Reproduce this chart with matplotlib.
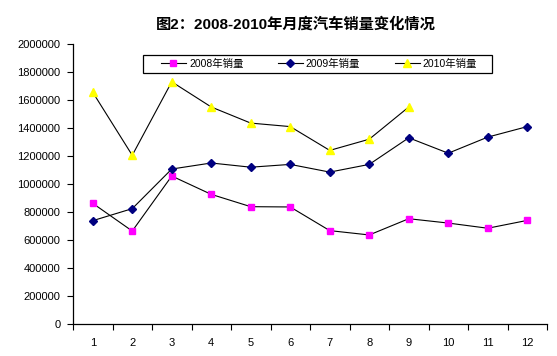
import matplotlib
matplotlib.use("Agg")
import matplotlib.pyplot as plt
from matplotlib.patches import Rectangle
from matplotlib.ticker import FixedLocator

plt.rcParams['font.family'] = ['Liberation Sans', 'Noto Sans CJK SC', 'DejaVu Sans']

# monthly car sales
months = list(range(1, 13))
sales_2008 = [862000, 664000, 1057000, 926000, 838000, 836000, 667000, 636000, 752000, 721000, 684000, 740000]
sales_2009 = [738000, 824000, 1107000, 1150000, 1120000, 1140000, 1085000, 1140000, 1330000, 1220000, 1335000, 1410000]
months_2010 = list(range(1, 10))
sales_2010 = [1655000, 1205000, 1730000, 1550000, 1435000, 1410000, 1240000, 1320000, 1550000]
series_names = ["2008年销量", "2009年销量", "2010年销量"]
y_ticks = list(range(0, 2000001, 200000))
title = "图2：2008-2010年月度汽车销量变化情况"

fig = plt.figure(figsize=(5.57, 3.56), dpi=100)
ax = fig.add_axes([73 / 557, 1 - 324 / 356, 474 / 557, 280 / 356])

ax.plot(months, sales_2008, color="black", lw=0.8, marker="s", ms=5,
        mfc="#FF00FF", mec="#FF00FF", label=series_names[0])
ax.plot(months, sales_2009, color="black", lw=0.8, marker="D", ms=3.8,
        mfc="#000080", mec="#000080", label=series_names[1])
ax.plot(months_2010, sales_2010, color="black", lw=0.8, marker="^", ms=6,
        mfc="#FFFF00", mec="#FFFF00", label=series_names[2])

ax.set_xlim(0.5, 12.5)
ax.set_ylim(0, 2000000)
ax.set_yticks(y_ticks)
ax.set_yticklabels([str(v) for v in y_ticks], fontsize=8)
ax.set_xticks(months)
ax.set_xticklabels([str(m) for m in months], fontsize=8)
ax.xaxis.set_minor_locator(FixedLocator([m + 0.5 for m in range(0, 13)]))
ax.tick_params(axis="x", which="major", length=0, pad=10)
ax.tick_params(axis="x", which="minor", length=4, width=0.8, direction="out")
ax.tick_params(axis="y", length=4, width=0.8, direction="out", pad=5)

for side in ["top", "right"]:
    ax.spines[side].set_visible(False)
for side in ["left", "bottom"]:
    ax.spines[side].set_linewidth(0.9)

fig.text(296 / 557, 1 - 24 / 356, title, ha="center", va="center",
         fontsize=11, fontweight="bold")

# legend box drawn by hand, Excel style
fig.patches.append(Rectangle((143 / 557, 1 - 73 / 356), 349 / 557, 18 / 356,
                             transform=fig.transFigure, fill=False,
                             edgecolor="black", linewidth=0.9))
leg = fig.legend(loc="center", ncol=3, bbox_to_anchor=(319 / 557, 1 - 64 / 356),
                 fontsize=7.5, frameon=False, handlelength=2.4,
                 handletextpad=0.3, columnspacing=3.3, borderaxespad=0)

fig.savefig("out.png", dpi=100)
